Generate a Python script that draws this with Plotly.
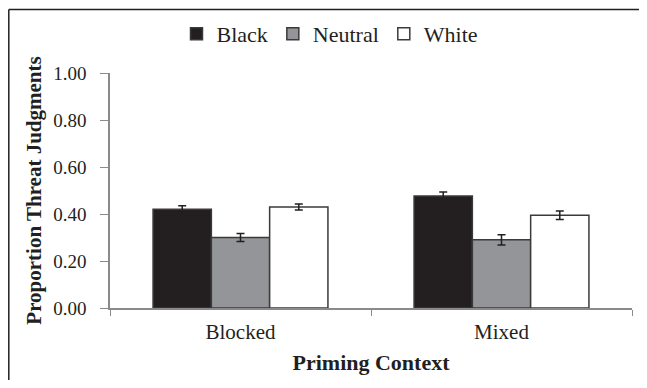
import plotly.graph_objects as go

categories = ["Blocked", "Mixed"]
series_names = ["Black", "Neutral", "White"]
black_vals = [0.42, 0.477]
neutral_vals = [0.30, 0.29]
white_vals = [0.43, 0.395]
black_err = [0.015, 0.017]
neutral_err = [0.017, 0.022]
white_err = [0.013, 0.018]
y_ticks = [0.0, 0.2, 0.4, 0.6, 0.8, 1.0]
y_ticklabels = ["0.00", "0.20", "0.40", "0.60", "0.80", "1.00"]

# page has an 8px body margin; figure coordinates = page - 8
W, H = 631, 372
ML, MR, MT, MB = 102, 7, 65, 72
PW, PH = W - ML - MR, H - MT - MB

fills = ["#231f20", "#939598", "#ffffff"]
fig = go.Figure()
for name, vals, errs, col in zip(series_names, [black_vals, neutral_vals, white_vals],
                                 [black_err, neutral_err, white_err], fills):
    fig.add_trace(go.Bar(
        x=categories, y=vals, name=name,
        marker=dict(color=col, line=dict(color="#3a3a3a", width=1.5)),
        error_y=dict(type="data", array=errs, visible=True, color="#231f20",
                     thickness=1.5, width=4),
    ))

font = "Liberation Serif, Times New Roman, serif"
# frame: left and top edges only (the rest is cropped off in the reference)
fx0 = (0.8 - ML) / PW
fx1 = (W - ML) / PW
fy_top = (H - MB - 1.5) / PH
fy_bot = (H - MB - H) / PH
frame = [
    dict(type="line", xref="paper", yref="paper", x0=fx0, x1=fx0, y0=fy_bot, y1=fy_top,
         line=dict(color="#231f20", width=1.5), layer="below"),
    dict(type="line", xref="paper", yref="paper", x0=fx0, x1=fx1, y0=fy_top, y1=fy_top,
         line=dict(color="#231f20", width=1.5), layer="below"),
]

fig.update_layout(
    width=W, height=H,
    margin=dict(l=ML, r=MR, t=MT, b=MB, autoexpand=False),
    paper_bgcolor="white", plot_bgcolor="white",
    barmode="group", bargap=0.33, bargroupgap=0,
    font=dict(family=font, size=19, color="#231f20"),
    showlegend=True,
    legend=dict(orientation="h", x=(322 - ML) / PW, xanchor="center",
                y=(H - MB - 26) / PH, yanchor="middle",
                font=dict(family=font, size=22, color="#231f20"),
                itemwidth=30, traceorder="normal", bgcolor="rgba(0,0,0,0)"),
    xaxis=dict(showline=True, linecolor="#8a8a8a", linewidth=1.5,
               ticks="outside", tickson="boundaries", ticklen=6, tickcolor="#8a8a8a",
               ticklabelstandoff=4,
               tickfont=dict(family=font, size=21, color="#231f20"),
               title=dict(text="<b>Priming Context</b>", standoff=12,
                          font=dict(family=font, size=22, color="#231f20")),
               showgrid=False),
    yaxis=dict(range=[0, 1.0], tickvals=y_ticks, ticktext=y_ticklabels,
               showline=True, linecolor="#8a8a8a", linewidth=1.5,
               ticks="outside", ticklen=8, tickcolor="#8a8a8a",
               ticklabelstandoff=10,
               tickfont=dict(family=font, size=19, color="#231f20"),
               title=dict(text="<b>Proportion Threat Judgments</b>", standoff=6,
                          font=dict(family=font, size=21, color="#231f20")),
               showgrid=False, zeroline=False),
    shapes=frame,
)

fig.write_html("out.html")
